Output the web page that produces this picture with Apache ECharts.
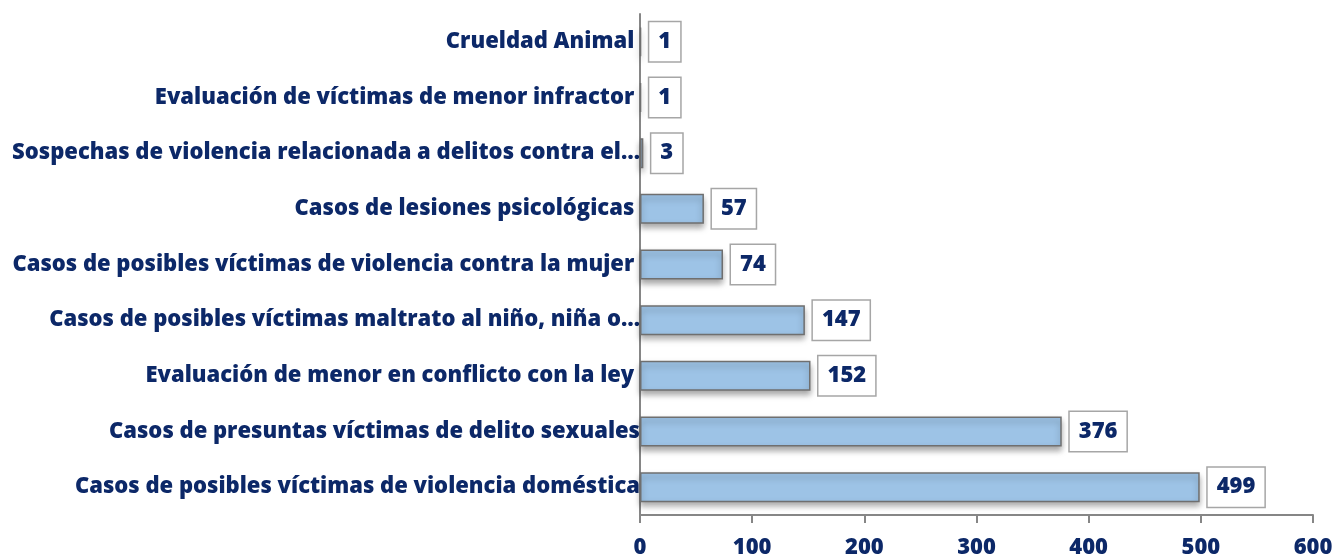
<!DOCTYPE html>
<html>
<head>
<meta charset="utf-8">
<script src="https://cdn.jsdelivr.net/npm/echarts@6/dist/echarts.min.js"></script>
<style>
  html, body { margin: 0; padding: 0; background: #fff; }
  #chart { width: 1337px; height: 560px; }
</style>
</head>
<body>
<div id="chart"></div>
<script>
// categories listed bottom -> top
const categories = [
  'Casos de posibles víctimas de violencia doméstica',
  'Casos de presuntas víctimas de delito sexuales',
  'Evaluación de menor en conflicto con la ley ',
  'Casos de posibles víctimas maltrato al niño, niña o…',
  'Casos de posibles víctimas de violencia contra la mujer ',
  'Casos de lesiones psicológicas ',
  'Sospechas de violencia relacionada a delitos contra el…',
  'Evaluación de víctimas de menor infractor ',
  'Crueldad Animal '
];
const casos = [499, 376, 152, 147, 74, 57, 3, 1, 1];
const xTicks = [0, 100, 200, 300, 400, 500, 600];

const navy = '#0C2868';
const font = '"Open Sans", sans-serif';

const chart = echarts.init(document.getElementById('chart'));
chart.setOption({
  animation: false,
  grid: { left: 640, right: 24, top: 14, bottom: 45 },
  xAxis: {
    type: 'value',
    min: xTicks[0],
    max: xTicks[xTicks.length - 1],
    interval: 100,
    axisLine: { show: true, lineStyle: { color: '#868686', width: 2 } },
    axisTick: { show: true, length: 8, lineStyle: { color: '#868686', width: 2 } },
    splitLine: { show: false },
    axisLabel: { color: navy, fontWeight: 800, fontSize: 22, fontFamily: font, margin: 22 }
  },
  yAxis: {
    type: 'category',
    data: categories,
    axisLine: { show: true, lineStyle: { color: '#868686', width: 2 } },
    axisTick: { show: false },
    axisLabel: { color: navy, fontWeight: 800, fontSize: 22, fontFamily: font, margin: 0 }
  },
  series: [{
    type: 'bar',
    data: casos,
    barWidth: 30,
    itemStyle: {
      color: '#9DC3E6',
      borderColor: '#6F6F6F',
      borderWidth: 1.5,
      shadowColor: 'rgba(0,0,0,0.35)',
      shadowBlur: 6,
      shadowOffsetY: 4
    },
    label: {
      show: true,
      position: 'right',
      distance: 8,
      color: navy,
      fontWeight: 800,
      fontSize: 22,
      fontFamily: font,
      backgroundColor: '#fff',
      borderColor: '#A6A6A6',
      borderWidth: 1.5,
      padding: [9, 9, 8, 9]
    }
  }]
});
</script>
</body>
</html>
